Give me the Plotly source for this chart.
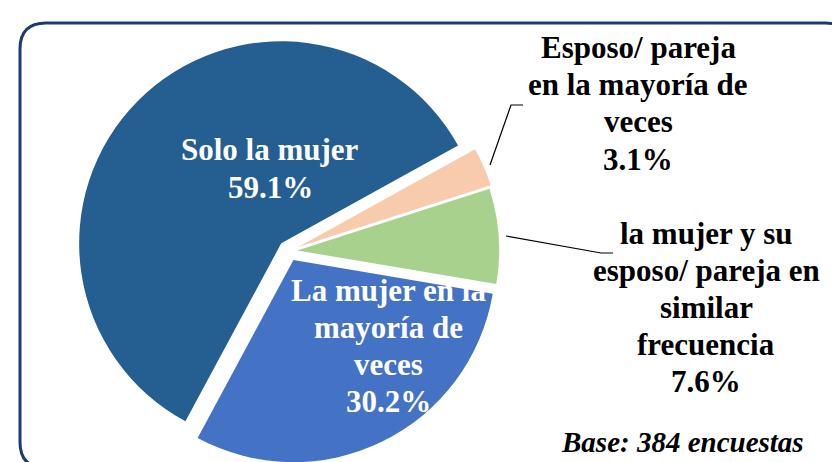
import plotly.graph_objects as go

# ---- data ----
categories = [
    "Solo la mujer",
    "La mujer en la mayoría de veces",
    "la mujer y su esposo/ pareja en similar frecuencia",
    "Esposo/ pareja en la mayoría de veces",
]
values = [59.1, 30.2, 7.6, 3.1]
label_lines = [
    ["Solo la mujer"],
    ["La mujer en la", "mayoría de", "veces"],
    ["la mujer y su", "esposo/ pareja en", "similar", "frecuencia"],
    ["Esposo/ pareja", "en la mayoría de", "veces"],
]
base_note = "Base: 384 encuestas"

# ---- style ----
colors = ["#255E91", "#4472C4", "#A9D18E", "#F8CBAD"]
pulls = [0.054, 0.05, 0.04, 0.05]
W, H = 840, 462
FONT = "Liberation Serif"
FS = 31
LS = 37  # line spacing px
OFF = 18  # baseline -> annotation middle offset

def px(x):
    return x / W

def py(y):
    return 1 - y / H

fig = go.Figure(go.Pie(
    labels=categories,
    values=values,
    sort=False,
    direction="counterclockwise",
    rotation=208.3,
    pull=pulls,
    marker=dict(colors=colors, line=dict(width=0)),
    textinfo="none",
    hoverinfo="label+percent",
    domain=dict(x=[px(68), px(494)], y=[py(456), py(30)]),
    showlegend=False,
))

# label anchor positions (center x, first-line baseline y) in px, text colour
label_pos = [(262, 160, "white"), (380, 300, "white"), (698, 243, "black"), (630, 58, "black")]

annotations = []
for lines, v, (cx, by, col) in zip(label_lines, values, label_pos):
    all_lines = lines + [f"{v:.1f}%"]
    for i, t in enumerate(all_lines):
        annotations.append(dict(
            x=px(cx), y=py(by + i * LS - OFF), xref="paper", yref="paper",
            text=t, showarrow=False,
            xanchor="center", yanchor="middle",
            font=dict(family=FONT, size=FS, color=col, weight="bold"),
        ))

annotations.append(dict(
    x=px(674), y=py(450 - 16), xref="paper", yref="paper",
    text=base_note, showarrow=False,
    xanchor="center", yanchor="middle",
    font=dict(family=FONT, size=29, color="black", weight="bold", style="italic"),
))

def path_px(points):
    return "M " + " L ".join(f"{px(x)},{py(y)}" for x, y in points)

shapes = []
# leader lines
shapes.append(dict(type="path", xref="paper", yref="paper",
                   path=path_px([(482, 157), (503, 97), (515, 97)]),
                   line=dict(color="black", width=1.2)))
shapes.append(dict(type="path", xref="paper", yref="paper",
                   path=path_px([(498, 228), (593, 245), (605, 245)]),
                   line=dict(color="black", width=1.2)))

# rounded border
L, T, R, B, r = 12, 15, 843, 460, 26
border = (
    f"M {px(L+r)},{py(T)} L {px(R-r)},{py(T)} "
    f"Q {px(R)},{py(T)} {px(R)},{py(T+r)} "
    f"L {px(R)},{py(B-r)} Q {px(R)},{py(B)} {px(R-r)},{py(B)} "
    f"L {px(L+r)},{py(B)} Q {px(L)},{py(B)} {px(L)},{py(B-r)} "
    f"L {px(L)},{py(T+r)} Q {px(L)},{py(T)} {px(L+r)},{py(T)} Z"
)
shapes.append(dict(type="path", xref="paper", yref="paper", path=border,
                   line=dict(color="#1F3A73", width=3), layer="below"))

fig.update_layout(
    width=W, height=H,
    margin=dict(l=0, r=0, t=0, b=0),
    paper_bgcolor="white",
    plot_bgcolor="white",
    annotations=annotations,
    shapes=shapes,
)

fig.write_html("out.html")
